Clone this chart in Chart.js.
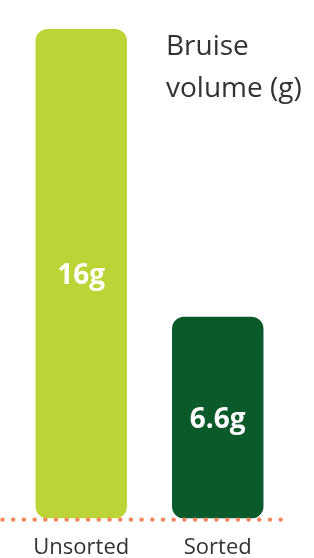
<!DOCTYPE html>
<html>
<head>
<meta charset="utf-8">
<script src="https://cdn.jsdelivr.net/npm/chart.js@4"></script>
<style>
  html, body { margin: 0; padding: 0; background: #fff; }
  #wrap { width: 314px; height: 558px; position: relative; }
</style>
</head>
<body>
<div id="wrap"><canvas id="bruiseChart"></canvas></div>
<script>
// 数据
const categories = ['Unsorted', 'Sorted'];
const bruiseValues = [16, 6.6];
const valueLabels = ['16g', '6.6g'];
const titleLines = ['Bruise', 'volume (g)'];

const barColors = ['#bcd435', '#0b5a2b'];

// 柱内数值、标题和底部虚线
const decorPlugin = {
    id: 'decor',
    afterDatasetsDraw(chart) {
        const ctx = chart.ctx;
        const meta = chart.getDatasetMeta(0);
        const y0 = chart.scales.y.getPixelForValue(0);

        ctx.save();
        // 点状基线
        ctx.fillStyle = '#f5845a';
        for (let x = 2.5; x < 290; x += 10.7) {
            ctx.beginPath();
            ctx.arc(x, y0 + 1, 2.2, 0, Math.PI * 2);
            ctx.fill();
        }

        // 数值标签
        ctx.fillStyle = '#fff';
        ctx.font = 'bold 28px "Open Sans", sans-serif';
        ctx.textAlign = 'center';
        ctx.textBaseline = 'middle';
        meta.data.forEach((bar, i) => {
            const mid = (bar.y + bar.base) / 2;
            ctx.fillText(valueLabels[i], bar.x, mid + 2);
        });

        // 标题
        ctx.fillStyle = '#333';
        ctx.font = '28px "Open Sans", sans-serif';
        ctx.textAlign = 'left';
        ctx.textBaseline = 'alphabetic';
        ctx.fillText(titleLines[0], 166, 55);
        ctx.fillText(titleLines[1], 166, 97);
        ctx.restore();
    }
};

new Chart(document.getElementById('bruiseChart'), {
    type: 'bar',
    data: {
        labels: categories,
        datasets: [{
            data: bruiseValues,
            backgroundColor: barColors,
            borderWidth: 0,
            borderRadius: 12,
            borderSkipped: false,
            barPercentage: 0.67,
            categoryPercentage: 1
        }]
    },
    options: {
        responsive: true,
        maintainAspectRatio: false,
        animation: false,
        layout: {
            padding: { left: 13, right: 28, top: 29, bottom: -19 }
        },
        plugins: {
            legend: { display: false },
            tooltip: { enabled: false }
        },
        scales: {
            y: {
                display: false,
                min: 0,
                max: 16
            },
            x: {
                border: { display: false },
                grid: { display: false, drawTicks: false },
                ticks: {
                    color: '#333',
                    padding: 16,
                    font: { family: '"Open Sans", sans-serif', size: 22 }
                }
            }
        }
    },
    plugins: [decorPlugin]
});
</script>
</body>
</html>
